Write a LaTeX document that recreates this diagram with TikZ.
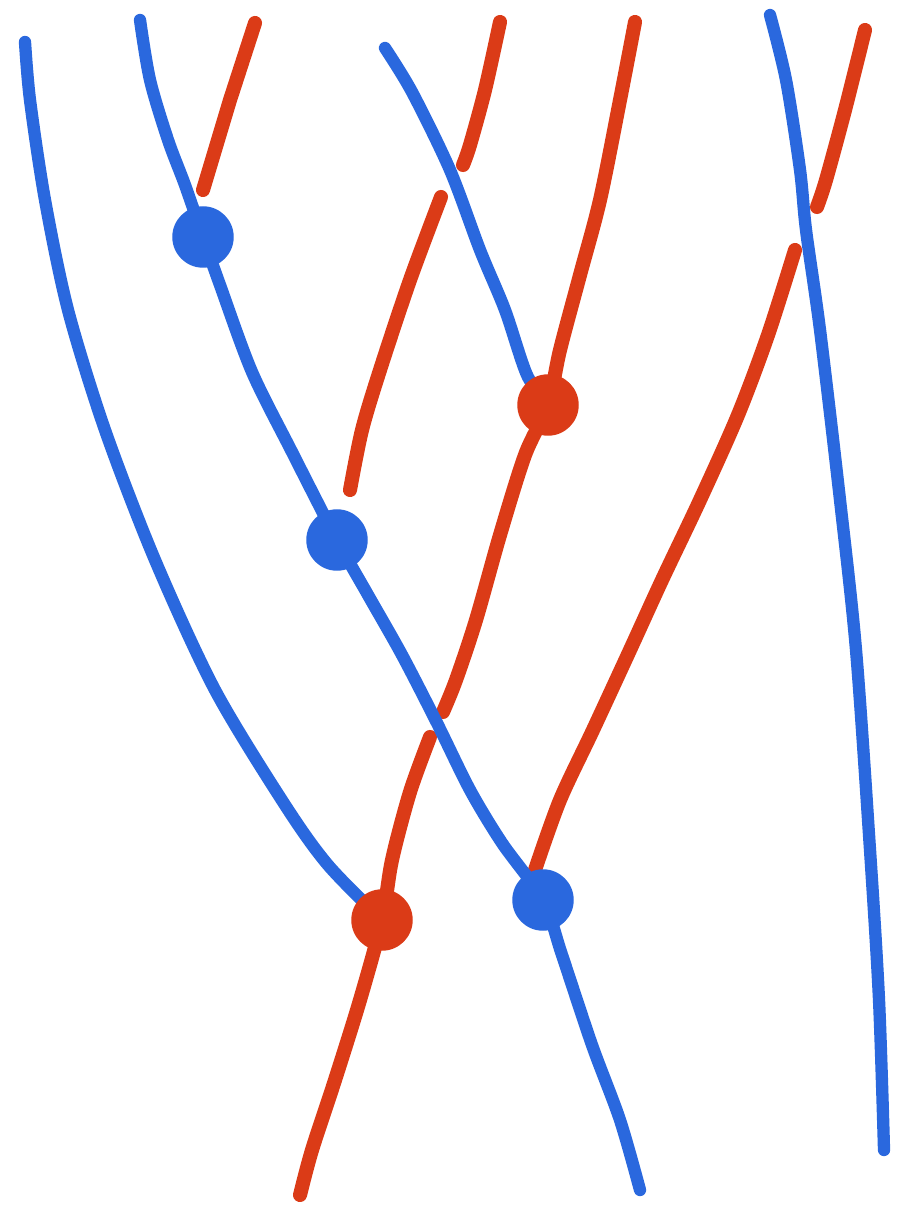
\documentclass[tikz,border=0pt]{standalone}
\usetikzlibrary{positioning, backgrounds}
\definecolor{cblue}{HTML}{2A68DE}
\definecolor{cred}{HTML}{DB3B17}
\tikzset{
  bstrand/.style={draw=cblue, line width=3.5pt, line cap=round, line join=round},
  rstrand/.style={draw=cred, line width=4pt, line cap=round, line join=round},
  vertex/.style={circle, fill=#1, draw=#1, inner sep=0pt, minimum size=0.6cm},
  vertex/.default=cblue,
}

\begin{document}
\begin{tikzpicture}[x=0.01cm, y=-0.01cm]
  \useasboundingbox (0,0) rectangle (897,1207);
  % vertices
  \node[vertex=cblue] (v1) at (203,237) {};
  \node[vertex=cred]  (v2) at (548,405) {};
  \node[vertex=cblue] (v3) at (337,540) {};
  \node[vertex=cred]  (v4) at (382,920) {};
  \node[vertex=cblue] (v5) at (543,900) {};
  % free ends
  \coordinate (b1top) at (25,42);
  \coordinate (b2top) at (140,20);
  \coordinate (b2bot) at (640,1190);
  \coordinate (b3top) at (385,48);
  \coordinate (b4top) at (770,15);
  \coordinate (b4bot) at (884,1150);
  \coordinate (r1top) at (255,23);
  \coordinate (r1bot) at (203,190);
  \coordinate (r2top) at (500,22);
  \coordinate (r2bot) at (350,490);
  \coordinate (r3top) at (635,22);
  \coordinate (r3bot) at (300,1195);
  \coordinate (r4top) at (865,30);
  \begin{scope}[on background layer, smooth, tension=0.5]
    \fill[white] (0,0) rectangle (897,1207);
    % red strands (broken where blue passes over)
    \draw[rstrand] (r1top) -- (230,100) -- (r1bot);
    \draw[rstrand] plot coordinates {(r2top) (485,90) (470,145) (463,165)};
    \draw[rstrand] plot coordinates {(441,197) (410,280) (380,370) (362,430) (r2bot)};
    \draw[rstrand] plot coordinates {(r3top) (620,100) (600,200) (580,275) (560,350) (v2)
      (525,455) (500,535) (476,620) (456,680) (443,712)};
    \draw[rstrand] plot coordinates {(430,737) (410,792) (392,860) (v4)
      (360,1000) (335,1080) (312,1150) (r3bot)};
    \draw[rstrand] plot coordinates {(r4top) (845,110) (826,180) (817,207)};
    \draw[rstrand] plot coordinates {(795,250) (768,335) (738,415) (700,500)
      (662,580) (630,650) (593,730) (560,800) (535,870)};
    % blue strands
    \draw[bstrand] plot coordinates {(b1top) (30,100) (45,200) (68,310) (105,430)
      (155,560) (215,690) (285,805) (328,865) (v4)};
    \draw[bstrand] plot coordinates {(b2top) (150,80) (168,140) (185,185) (v1)
      (220,285) (252,372) (292,452) (v3) (368,595) (402,655) (437,723) (470,790)
      (502,843) (v5) (562,955) (592,1045) (620,1120) (b2bot)};
    \draw[bstrand] plot coordinates {(b3top) (412,92) (450,170) (480,250)
      (505,310) (527,375) (v2)};
    \draw[bstrand] plot coordinates {(b4top) (786,80) (800,170) (806,230)
      (820,330) (840,500) (856,650) (870,850) (879,1000) (b4bot)};
  \end{scope}
\end{tikzpicture}
\end{document}
